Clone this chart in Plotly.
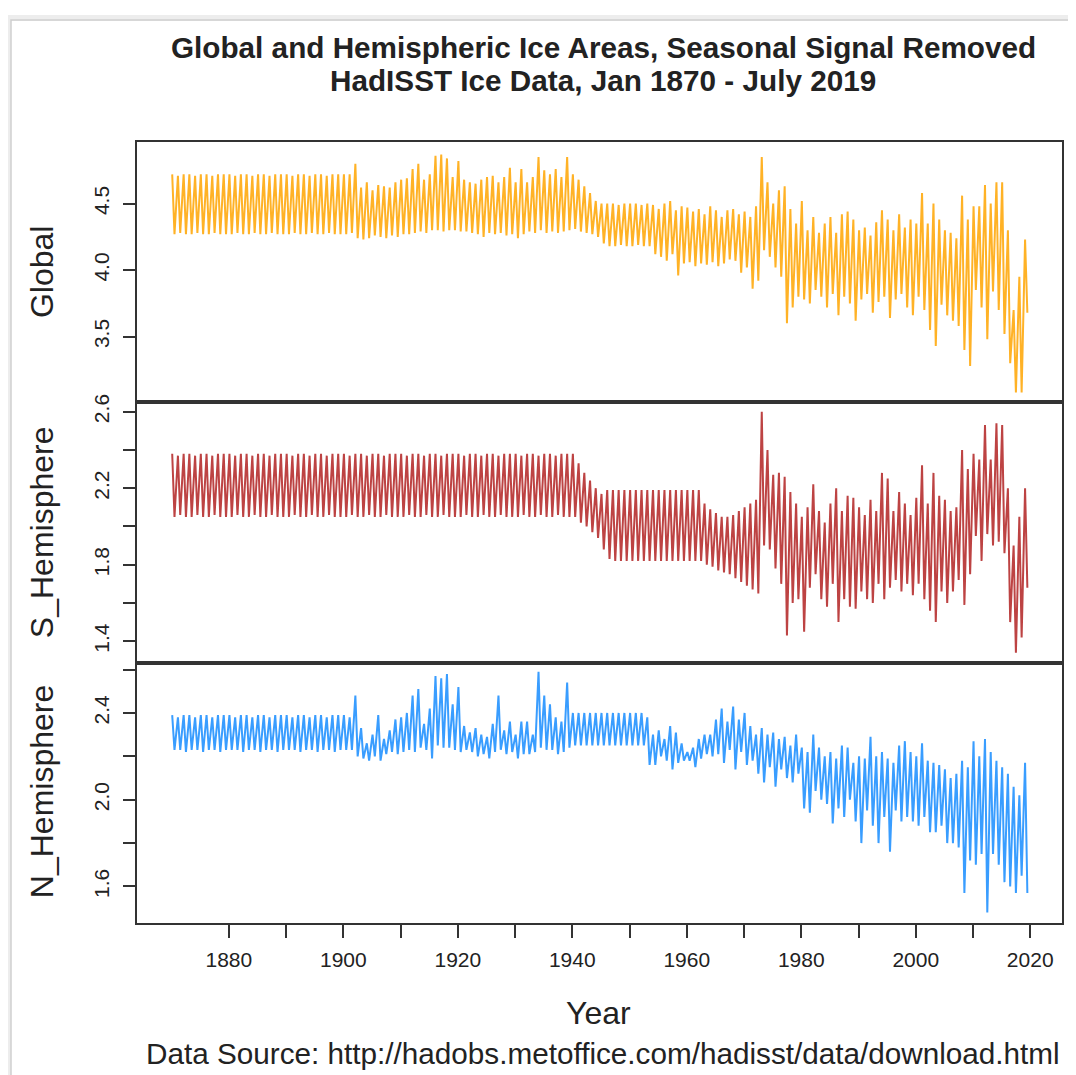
import plotly.graph_objects as go

# ---------------- data ----------------
years = list(range(1870, 2020))

# Global ice area: seasonal highs / lows of each year
global_hi = [
    4.72, 4.71, 4.72, 4.72, 4.71, 4.72, 4.72, 4.71, 4.72, 4.72,
    4.72, 4.71, 4.72, 4.72, 4.71, 4.72, 4.72, 4.71, 4.72, 4.72,
    4.72, 4.71, 4.72, 4.72, 4.71, 4.72, 4.72, 4.71, 4.72, 4.72,
    4.72, 4.72, 4.80, 4.62, 4.66, 4.60, 4.64, 4.63, 4.62, 4.66,
    4.68, 4.69, 4.76, 4.80, 4.68, 4.72, 4.86, 4.87, 4.84, 4.70,
    4.82, 4.68, 4.66, 4.65, 4.68, 4.70, 4.71, 4.66, 4.70, 4.77,
    4.66, 4.76, 4.66, 4.70, 4.85, 4.75, 4.72, 4.76, 4.70, 4.85,
    4.72, 4.68, 4.63, 4.58, 4.52, 4.50, 4.50, 4.50, 4.49, 4.50,
    4.50, 4.50, 4.49, 4.50, 4.49, 4.46, 4.50, 4.52, 4.45, 4.48,
    4.47, 4.44, 4.46, 4.42, 4.48, 4.45, 4.40, 4.45, 4.46, 4.42,
    4.44, 4.40, 4.48, 4.85, 4.66, 4.50, 4.60, 4.63, 4.46, 4.35,
    4.52, 4.30, 4.40, 4.28, 4.35, 4.40, 4.28, 4.42, 4.44, 4.38,
    4.30, 4.32, 4.26, 4.36, 4.45, 4.38, 4.30, 4.42, 4.32, 4.38,
    4.35, 4.58, 4.35, 4.50, 4.38, 4.30, 4.28, 4.24, 4.56, 4.38,
    4.48, 4.48, 4.64, 4.50, 4.66, 4.66, 4.30, 3.70, 3.95, 4.23,
]
global_lo = [
    4.27, 4.28, 4.27, 4.27, 4.28, 4.27, 4.27, 4.28, 4.27, 4.27,
    4.27, 4.28, 4.27, 4.27, 4.28, 4.27, 4.27, 4.28, 4.27, 4.27,
    4.27, 4.28, 4.27, 4.27, 4.28, 4.27, 4.27, 4.28, 4.27, 4.27,
    4.27, 4.28, 4.24, 4.23, 4.24, 4.26, 4.25, 4.24, 4.26, 4.25,
    4.27, 4.27, 4.28, 4.29, 4.28, 4.30, 4.30, 4.29, 4.30, 4.30,
    4.29, 4.29, 4.28, 4.27, 4.25, 4.28, 4.27, 4.28, 4.26, 4.27,
    4.24, 4.27, 4.29, 4.28, 4.30, 4.28, 4.29, 4.28, 4.29, 4.30,
    4.31, 4.29, 4.28, 4.27, 4.25, 4.20, 4.18, 4.18, 4.19, 4.18,
    4.18, 4.19, 4.18, 4.18, 4.12, 4.10, 4.07, 4.12, 3.96, 4.05,
    4.06, 4.03, 4.05, 4.04, 4.06, 4.03, 4.05, 4.08, 4.07, 3.98,
    4.02, 3.86, 3.92, 4.15, 4.10, 4.02, 3.95, 3.60, 3.72, 3.80,
    3.78, 3.75, 3.85, 3.80, 3.72, 3.82, 3.66, 3.80, 3.75, 3.62,
    3.78, 3.82, 3.68, 3.76, 3.80, 3.64, 3.78, 3.82, 3.72, 3.66,
    3.80, 3.70, 3.55, 3.43, 3.74, 3.66, 3.62, 3.58, 3.40, 3.28,
    3.85, 3.72, 3.48, 3.84, 3.70, 3.52, 3.30, 3.08, 3.08, 3.68,
]

# Southern Hemisphere
south_hi = [
    2.38, 2.37, 2.38, 2.38, 2.37, 2.38, 2.38, 2.37, 2.38, 2.38,
    2.38, 2.37, 2.38, 2.38, 2.37, 2.38, 2.38, 2.37, 2.38, 2.38,
    2.38, 2.37, 2.38, 2.38, 2.37, 2.38, 2.38, 2.37, 2.38, 2.38,
    2.38, 2.37, 2.38, 2.38, 2.37, 2.38, 2.38, 2.37, 2.38, 2.38,
    2.38, 2.37, 2.38, 2.38, 2.37, 2.38, 2.38, 2.37, 2.38, 2.38,
    2.38, 2.37, 2.38, 2.38, 2.37, 2.38, 2.38, 2.37, 2.38, 2.38,
    2.38, 2.37, 2.38, 2.38, 2.37, 2.38, 2.38, 2.37, 2.38, 2.38,
    2.38, 2.33, 2.28, 2.24, 2.20, 2.17, 2.19, 2.19, 2.19, 2.19,
    2.19, 2.19, 2.19, 2.19, 2.19, 2.19, 2.19, 2.19, 2.19, 2.19,
    2.19, 2.19, 2.19, 2.12, 2.09, 2.07, 2.05, 2.05, 2.06, 2.08,
    2.10, 2.12, 2.14, 2.60, 2.40, 2.27, 2.28, 2.26, 2.18, 2.12,
    2.05, 2.10, 2.22, 2.08, 2.02, 2.12, 2.20, 2.08, 2.16, 2.15,
    2.10, 2.06, 2.14, 2.08, 2.28, 2.25, 2.08, 2.18, 2.12, 2.06,
    2.15, 2.32, 2.12, 2.28, 2.16, 2.14, 2.08, 2.10, 2.40, 2.30,
    2.38, 2.35, 2.53, 2.35, 2.54, 2.53, 2.20, 1.90, 2.05, 2.20,
]
south_lo = [
    2.05, 2.06, 2.05, 2.05, 2.06, 2.05, 2.05, 2.06, 2.05, 2.05,
    2.05, 2.06, 2.05, 2.05, 2.06, 2.05, 2.05, 2.06, 2.05, 2.05,
    2.05, 2.06, 2.05, 2.05, 2.06, 2.05, 2.05, 2.06, 2.05, 2.05,
    2.05, 2.06, 2.05, 2.05, 2.06, 2.05, 2.05, 2.06, 2.05, 2.05,
    2.05, 2.06, 2.05, 2.05, 2.06, 2.05, 2.05, 2.06, 2.05, 2.05,
    2.05, 2.06, 2.05, 2.05, 2.06, 2.05, 2.05, 2.06, 2.05, 2.05,
    2.05, 2.06, 2.05, 2.05, 2.06, 2.05, 2.05, 2.06, 2.05, 2.05,
    2.05, 2.02, 2.00, 1.97, 1.94, 1.88, 1.83, 1.82, 1.82, 1.82,
    1.82, 1.82, 1.82, 1.82, 1.82, 1.82, 1.82, 1.82, 1.82, 1.82,
    1.82, 1.82, 1.82, 1.80, 1.79, 1.77, 1.76, 1.75, 1.73, 1.71,
    1.69, 1.67, 1.65, 1.90, 1.88, 1.78, 1.70, 1.43, 1.60, 1.62,
    1.45, 1.68, 1.75, 1.62, 1.58, 1.70, 1.50, 1.62, 1.58, 1.57,
    1.66, 1.62, 1.60, 1.70, 1.62, 1.68, 1.72, 1.66, 1.70, 1.64,
    1.70, 1.62, 1.56, 1.50, 1.66, 1.60, 1.66, 1.72, 1.59, 1.75,
    1.95, 1.82, 1.96, 1.90, 1.92, 1.86, 1.50, 1.34, 1.42, 1.68,
]

# Northern Hemisphere
north_hi = [
    2.39, 2.38, 2.39, 2.39, 2.38, 2.39, 2.39, 2.38, 2.39, 2.39,
    2.39, 2.38, 2.39, 2.39, 2.38, 2.39, 2.39, 2.38, 2.39, 2.39,
    2.39, 2.38, 2.39, 2.39, 2.38, 2.39, 2.39, 2.38, 2.39, 2.39,
    2.39, 2.38, 2.48, 2.33, 2.26, 2.30, 2.39, 2.28, 2.32, 2.37,
    2.38, 2.40, 2.48, 2.51, 2.35, 2.42, 2.57, 2.56, 2.58, 2.44,
    2.52, 2.34, 2.31, 2.33, 2.30, 2.29, 2.35, 2.48, 2.32, 2.36,
    2.30, 2.36, 2.36, 2.30, 2.59, 2.48, 2.44, 2.38, 2.36, 2.54,
    2.40, 2.40, 2.40, 2.40, 2.40, 2.40, 2.40, 2.40, 2.40, 2.40,
    2.40, 2.40, 2.40, 2.38, 2.30, 2.32, 2.28, 2.34, 2.31, 2.26,
    2.22, 2.24, 2.28, 2.30, 2.30, 2.37, 2.42, 2.36, 2.43, 2.37,
    2.40, 2.34, 2.30, 2.33, 2.30, 2.31, 2.28, 2.29, 2.25, 2.30,
    2.24, 2.22, 2.30, 2.24, 2.20, 2.22, 2.19, 2.25, 2.24, 2.17,
    2.20, 2.19, 2.29, 2.20, 2.22, 2.19, 2.17, 2.25, 2.27, 2.22,
    2.20, 2.26, 2.18, 2.17, 2.16, 2.14, 2.10, 2.12, 2.18, 2.15,
    2.27, 2.20, 2.28, 2.22, 2.18, 2.15, 2.12, 2.06, 2.02, 2.17,
]
north_lo = [
    2.23, 2.23, 2.22, 2.23, 2.23, 2.22, 2.23, 2.23, 2.22, 2.23,
    2.23, 2.23, 2.22, 2.23, 2.23, 2.22, 2.23, 2.23, 2.22, 2.23,
    2.23, 2.23, 2.22, 2.23, 2.23, 2.22, 2.23, 2.23, 2.22, 2.23,
    2.23, 2.23, 2.20, 2.19, 2.18, 2.20, 2.18, 2.21, 2.22, 2.21,
    2.22, 2.23, 2.22, 2.24, 2.23, 2.19, 2.25, 2.24, 2.24, 2.23,
    2.22, 2.23, 2.22, 2.20, 2.21, 2.19, 2.22, 2.23, 2.21, 2.22,
    2.19, 2.21, 2.21, 2.22, 2.24, 2.23, 2.23, 2.21, 2.22, 2.24,
    2.25, 2.25, 2.25, 2.25, 2.25, 2.25, 2.25, 2.25, 2.25, 2.25,
    2.25, 2.25, 2.25, 2.16, 2.16, 2.20, 2.18, 2.14, 2.17, 2.18,
    2.18, 2.15, 2.19, 2.21, 2.20, 2.21, 2.17, 2.23, 2.14, 2.22,
    2.16, 2.18, 2.12, 2.08, 2.15, 2.06, 2.14, 2.10, 2.08, 2.12,
    1.96, 1.94, 2.04, 2.00, 1.98, 1.89, 1.96, 1.92, 2.00, 1.90,
    1.80, 1.95, 1.88, 1.80, 1.92, 1.76, 1.95, 1.90, 1.92, 1.90,
    1.88, 1.92, 1.85, 1.85, 1.88, 1.80, 1.80, 1.78, 1.57, 1.72,
    1.70, 1.75, 1.48, 1.75, 1.70, 1.62, 1.60, 1.57, 1.65, 1.57,
]

x_ticks = [1880, 1890, 1900, 1910, 1920, 1930, 1940, 1950, 1960, 1970,
           1980, 1990, 2000, 2010, 2020]
x_ticktext = ["1880", "", "1900", "", "1920", "", "1940", "", "1960", "",
              "1980", "", "2000", "", "2020"]
g_ticks = [3.5, 4.0, 4.5]
g_ticktext = ["3.5", "4.0", "4.5"]
s_ticks = [1.4, 1.6, 1.8, 2.0, 2.2, 2.4, 2.6]
s_ticktext = ["1.4", "", "1.8", "", "2.2", "", "2.6"]
n_ticks = [1.6, 1.8, 2.0, 2.2, 2.4, 2.6]
n_ticktext = ["1.6", "", "2.0", "", "2.4", ""]

# seasonal peak / trough timing within each year (fraction of year)
PEAK_OFFSET = 0.1
TROUGH_OFFSET = 0.5


def zigzag(hi, lo):
    xs, ys = [], []
    for yr, h, l in zip(years, hi, lo):
        xs += [yr + PEAK_OFFSET, yr + TROUGH_OFFSET]
        ys += [h, l]
    return xs, ys


W, H = 1076, 1075
OFF = 8  # page body margin of the browser
FONT = "Liberation Sans, Arial, Helvetica, sans-serif"
AX = "#333333"


def px_x(p):
    return (p - OFF) / W


def px_y(p):
    return 1 - (p - OFF) / H


fig = go.Figure()
series = [
    (global_hi, global_lo, "rgba(255,165,0,0.85)", "x2", "y"),
    (south_hi, south_lo, "rgba(178,34,34,0.85)", "x3", "y2"),
    (north_hi, north_lo, "rgba(30,144,255,0.88)", "x", "y3"),
]
for hi, lo, col, xa, ya in series:
    xs, ys = zigzag(hi, lo)
    fig.add_trace(go.Scatter(x=xs, y=ys, mode="lines",
                             line=dict(color=col, width=2),
                             xaxis=xa, yaxis=ya, showlegend=False,
                             hoverinfo="skip"))

x_dom = [px_x(137), px_x(1061.7)]
top_dom = [px_y(397.2), px_y(135)]
mid_dom = [px_y(659.5), px_y(397.2)]
bot_dom = [px_y(921.7), px_y(659.5)]
x_range = [1863.95, 2025.5]

common_line = dict(showline=True, linecolor=AX, linewidth=1.6, mirror=True,
                   showgrid=False, zeroline=False)

yax_common = dict(ticks="outside", ticklen=12, tickwidth=1.5, tickcolor=AX,
                  tickangle=-90,
                  tickfont=dict(family=FONT, size=21, color="#222"),
                  ticklabelstandoff=6, **common_line)

fig.update_layout(
    width=W, height=H,
    margin=dict(l=0, r=0, t=0, b=0),
    paper_bgcolor="white", plot_bgcolor="white",
    font=dict(family=FONT, color="#222"),
    xaxis=dict(domain=x_dom, anchor="y3", range=x_range,
               tickvals=x_ticks, ticktext=x_ticktext,
               ticks="outside", ticklen=13, tickwidth=1.5, tickcolor=AX,
               tickfont=dict(family=FONT, size=21, color="#222"),
               ticklabelstandoff=4, **common_line),
    xaxis2=dict(domain=x_dom, anchor="y", range=x_range,
                showticklabels=False, ticks="", matches="x", **common_line),
    xaxis3=dict(domain=x_dom, anchor="y2", range=x_range,
                showticklabels=False, ticks="", matches="x", **common_line),
    yaxis=dict(domain=top_dom, anchor="x2", range=[3.006, 4.963],
               tickvals=g_ticks, ticktext=g_ticktext, **yax_common),
    yaxis2=dict(domain=mid_dom, anchor="x3", range=[1.288, 2.649],
                tickvals=s_ticks, ticktext=s_ticktext, **yax_common),
    yaxis3=dict(domain=bot_dom, anchor="x", range=[1.432, 2.632],
                tickvals=n_ticks, ticktext=n_ticktext, **yax_common),
)

ann = []
ann.append(dict(text="<b>Global and Hemispheric Ice Areas, Seasonal Signal Removed</b>",
                x=px_x(603), y=px_y(40), font=dict(size=29.7, family=FONT, color="#222")))
ann.append(dict(text="<b>HadISST Ice Data, Jan 1870 - July 2019</b>",
                x=px_x(603), y=px_y(73), font=dict(size=29.7, family=FONT, color="#222")))
for txt, yc in [("Global", 266), ("S_Hemisphere", 528), ("N_Hemisphere", 790)]:
    ann.append(dict(text=txt, x=px_x(42), y=px_y(yc), textangle=-90,
                    font=dict(size=32, family=FONT, color="#222")))
ann.append(dict(text="Year", x=px_x(598), y=px_y(1012),
                font=dict(size=32, family=FONT, color="#222")))
ann.append(dict(text="Data Source: http://hadobs.metoffice.com/hadisst/data/download.html",
                x=px_x(603), y=px_y(1053),
                font=dict(size=29.7, family=FONT, color="#222")))
for a in ann:
    a.update(xref="paper", yref="paper", showarrow=False,
             xanchor="center", yanchor="middle")
fig.update_layout(annotations=ann)

# card frame around the picture
fig.update_layout(shapes=[
    dict(type="rect", xref="paper", yref="paper",
         x0=px_x(8), x1=px_x(1120), y0=px_y(1120), y1=px_y(10),
         line=dict(color="rgba(0,0,0,0.07)", width=6), fillcolor="rgba(0,0,0,0)",
         layer="below"),
    dict(type="rect", xref="paper", yref="paper",
         x0=px_x(11), x1=px_x(1120), y0=px_y(1120), y1=px_y(12),
         line=dict(color="#cfcfcf", width=1.5), fillcolor="rgba(0,0,0,0)",
         layer="below"),
])

fig.write_html("out.html")
